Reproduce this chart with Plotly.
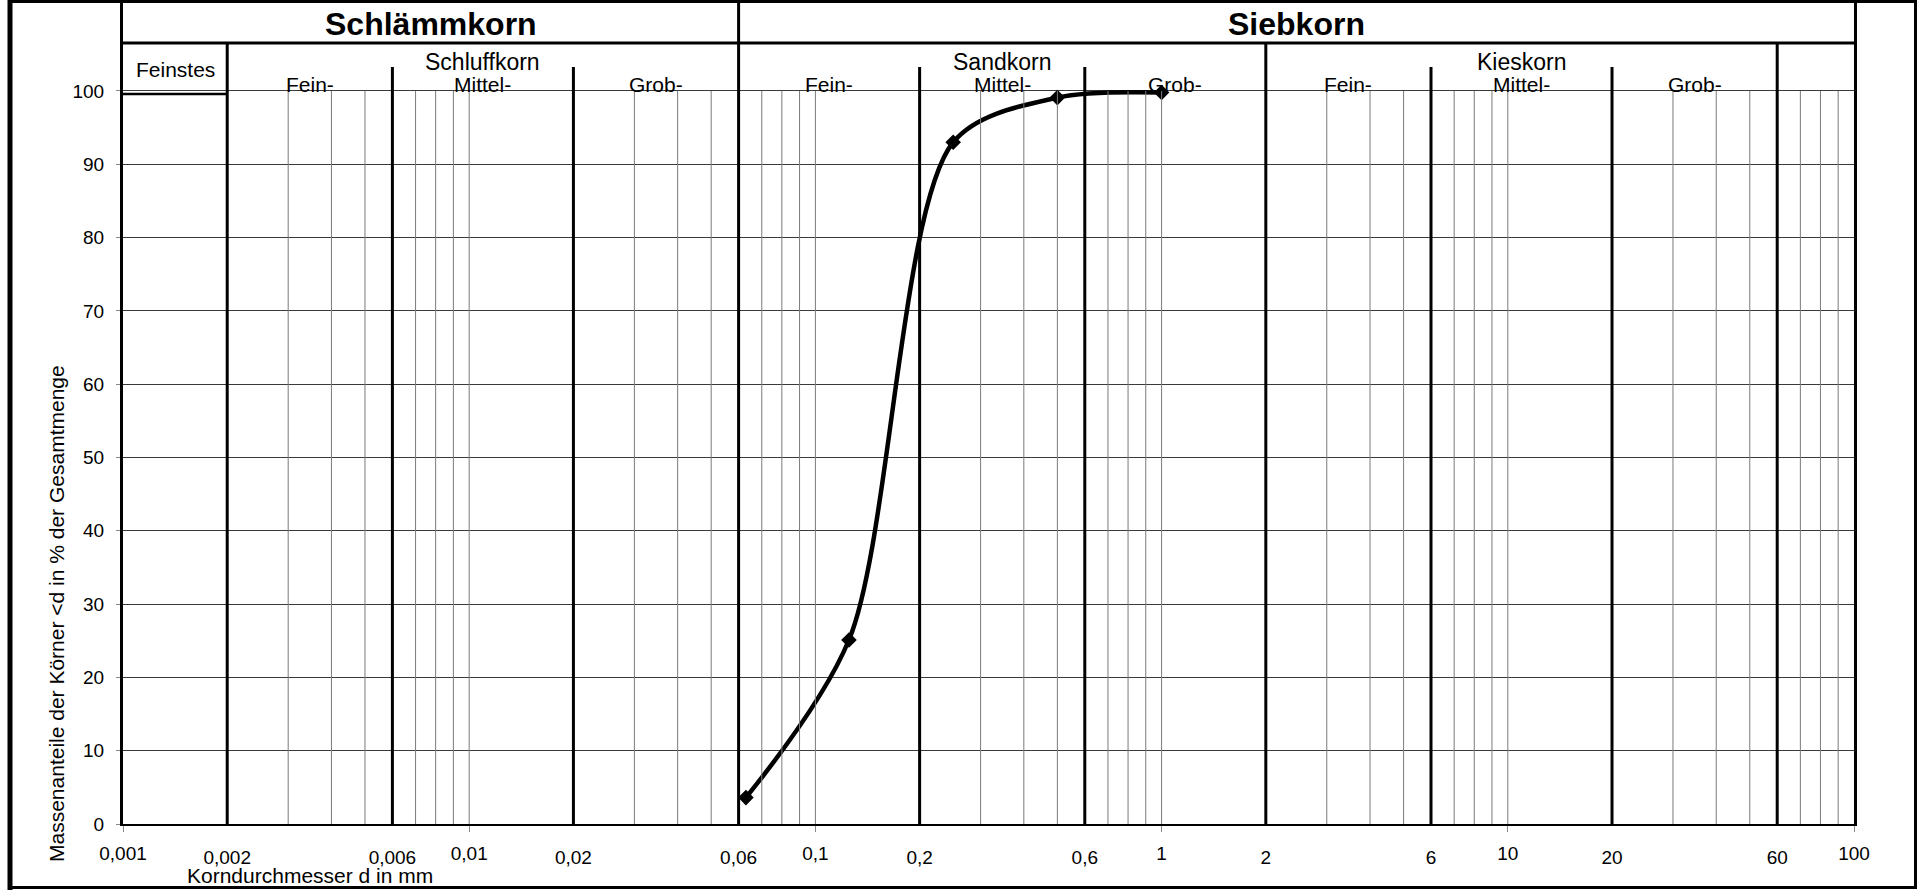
import numpy as np
import plotly.graph_objects as go

# ---------------- data ----------------
sieve_d = [0.063, 0.125, 0.25, 0.5, 1.0]          # Korndurchmesser d in mm
passing = [3.6, 25.1, 93.0, 99.1, 99.8]           # Massenanteile < d in %

y_ticks = [0, 10, 20, 30, 40, 50, 60, 70, 80, 90, 100]
decade_ticks = [0.001, 0.01, 0.1, 1, 10, 100]
decade_labels = ["0,001", "0,01", "0,1", "1", "10", "100"]
bound_ticks = [0.002, 0.006, 0.02, 0.06, 0.2, 0.6, 2, 6, 20, 60]
bound_labels = ["0,002", "0,006", "0,02", "0,06", "0,2", "0,6", "2", "6", "20", "60"]

minor_d = [0.003, 0.004, 0.005, 0.007, 0.008, 0.009, 0.01,
           0.03, 0.04, 0.05, 0.07, 0.08, 0.09, 0.1,
           0.3, 0.4, 0.5, 0.7, 0.8, 0.9, 1,
           3, 4, 5, 7, 8, 9, 10,
           30, 40, 50, 70, 80, 90]
sub_bounds = [0.006, 0.02, 0.2, 0.6, 6, 20]
group_bounds = [0.002, 2, 60]
main_bounds = [0.06]

top_groups = [("Schlämmkorn", 0.001, 0.06), ("Siebkorn", 0.06, 100)]
soil_groups = [("Schluffkorn", 0.002, 0.06), ("Sandkorn", 0.06, 2), ("Kieskorn", 2, 60)]
sub_fractions = [("Fein-", 0.002, 0.006), ("Mittel-", 0.006, 0.02), ("Grob-", 0.02, 0.06),
                 ("Fein-", 0.06, 0.2), ("Mittel-", 0.2, 0.6), ("Grob-", 0.6, 2),
                 ("Fein-", 2, 6), ("Mittel-", 6, 20), ("Grob-", 20, 60)]
finest = ("Feinstes", 0.001, 0.002)

y_axis_title = "Massenanteile der Körner <d in % der Gesamtmenge"
x_axis_title = "Korndurchmesser d in mm"

# ---------------- layout constants ----------------
W, H = 1917, 890
ML, MR, MT, MB = 123, 63, 2, 66
Y_TOP = 112.14
Y_HEAD_MID = 106.55
Y_SUB_TOP = 103.27
Y_FINE_BOX = 99.6
FONT = "Liberation Sans, Arial, Helvetica, sans-serif"


def vlines(xs, y0, y1):
    xx, yy = [], []
    for v in xs:
        xx += [v, v, None]
        yy += [y0, y1, None]
    return xx, yy


def logmid(a, b):
    return float(np.log10(np.sqrt(a * b)))


fig = go.Figure()

# minor vertical grid lines
mx, my = vlines(minor_d, 0, 100)
fig.add_trace(go.Scatter(x=mx, y=my, mode="lines", xaxis="x2",
                         line=dict(color="#7a7a7a", width=1), hoverinfo="skip"))

# thick boundary lines
for xs, ytop in [(sub_bounds, Y_SUB_TOP), (group_bounds, Y_HEAD_MID), (main_bounds, Y_TOP)]:
    bx, by = vlines(xs, 0, ytop)
    fig.add_trace(go.Scatter(x=bx, y=by, mode="lines",
                             line=dict(color="black", width=3), hoverinfo="skip"))

# header mid line and Feinstes box bottom
fig.add_trace(go.Scatter(x=[decade_ticks[0], decade_ticks[-1]], y=[Y_HEAD_MID, Y_HEAD_MID],
                         mode="lines", line=dict(color="black", width=3), hoverinfo="skip"))
fig.add_trace(go.Scatter(x=[finest[1], finest[2]], y=[Y_FINE_BOX, Y_FINE_BOX],
                         mode="lines", line=dict(color="black", width=2.5), hoverinfo="skip"))

# grain size curve
fig.add_trace(go.Scatter(x=sieve_d, y=passing, mode="lines+markers",
                         line=dict(color="black", width=4.5, shape="spline", smoothing=0.85),
                         marker=dict(symbol="diamond", size=12, color="black"),
                         hovertemplate="d=%{x} mm<br>%{y} %<extra></extra>"))

ann = []
for name, a, b in top_groups:
    ann.append(dict(x=logmid(a, b), y=109.1, xref="x", yref="y", text="<b>%s</b>" % name,
                    showarrow=False, font=dict(size=32, family=FONT, color="black"),
                    xanchor="center", yanchor="middle"))
for name, a, b in soil_groups:
    ann.append(dict(x=logmid(a, b), y=104.0, xref="x", yref="y", text=name,
                    showarrow=False, font=dict(size=23, family=FONT, color="black"),
                    xanchor="center", yanchor="middle"))
for name, a, b in sub_fractions:
    ann.append(dict(x=logmid(a, b), y=100.95, xref="x", yref="y", text=name,
                    showarrow=False, font=dict(size=21, family=FONT, color="black"),
                    xanchor="center", yanchor="middle"))
ann.append(dict(x=logmid(finest[1], finest[2]), y=102.94, xref="x", yref="y", text=finest[0],
                showarrow=False, font=dict(size=21, family=FONT, color="black"),
                xanchor="center", yanchor="middle"))
ann.append(dict(x=(56 - ML) / (W - ML - MR), y=(H - MB - 614) / (H - MB - MT),
                xref="paper", yref="paper", text=y_axis_title, textangle=-90,
                showarrow=False, font=dict(size=21, family=FONT, color="black"),
                xanchor="center", yanchor="middle"))
ann.append(dict(x=logmid(0.002, 0.006), y=(H - MB - 876) / (H - MB - MT),
                xref="x", yref="paper", text=x_axis_title,
                showarrow=False, font=dict(size=21, family=FONT, color="black"),
                xanchor="center", yanchor="middle"))

pw = W - ML - MR
ph = H - MB - MT


def px2x(p):
    return (p - ML) / pw


def px2y(p):
    return (H - MB - p) / ph


shapes = [
    dict(type="rect", xref="paper", yref="paper", x0=px2x(10), x1=px2x(1915.5),
         y0=px2y(887.5), y1=px2y(1.5), line=dict(color="black", width=3), layer="above"),
    dict(type="line", xref="paper", yref="paper", x0=px2x(10), x1=px2x(10),
         y0=px2y(890), y1=px2y(0), line=dict(color="black", width=5), layer="above"),
]

tick_font = dict(size=19, family=FONT, color="black")
fig.update_layout(
    width=W, height=H,
    margin=dict(l=ML, r=MR, t=MT, b=MB, pad=0),
    paper_bgcolor="white", plot_bgcolor="white",
    showlegend=False,
    font=dict(family=FONT, color="black"),
    xaxis=dict(type="log", range=[-3, 2], tickvals=decade_ticks, ticktext=decade_labels,
               showgrid=False, zeroline=False, showline=True, linecolor="black", linewidth=2,
               ticks="outside", ticklen=6, tickcolor="#888888", tickwidth=1,
               ticklabelstandoff=5, tickfont=tick_font, fixedrange=True),
    xaxis2=dict(type="log", range=[-3, 2], overlaying="x", side="bottom",
                tickvals=bound_ticks, ticktext=bound_labels,
                showgrid=False, zeroline=False, showline=False, ticks="",
                ticklabelstandoff=20, tickfont=tick_font, fixedrange=True),
    yaxis=dict(range=[0, Y_TOP], tickvals=y_ticks, showgrid=True, gridcolor="#3a3a3a",
               gridwidth=1, zeroline=False, showline=True, mirror=True, linecolor="black",
               linewidth=3, ticks="outside", ticklen=4, tickcolor="#888888",
               ticklabelstandoff=8, tickfont=tick_font, fixedrange=True),
    annotations=ann,
    shapes=shapes,
)

fig.write_html("out.html")
